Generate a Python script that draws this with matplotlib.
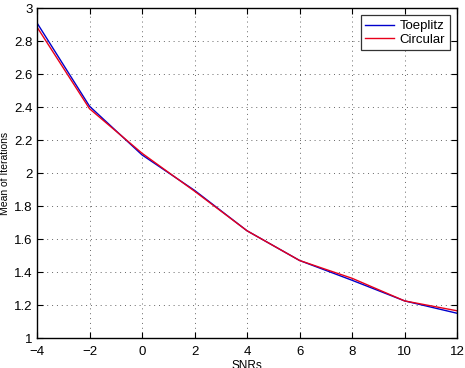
import matplotlib
matplotlib.use("Agg")
import matplotlib.pyplot as plt

snrs = [-4, -2, 0, 2, 4, 6, 8, 10, 12]
toeplitz = [2.91, 2.405, 2.11, 1.895, 1.65, 1.47, 1.35, 1.225, 1.15]
circular = [2.885, 2.39, 2.12, 1.89, 1.65, 1.47, 1.362, 1.225, 1.165]
xticks = [-4, -2, 0, 2, 4, 6, 8, 10, 12]
yticks = [1, 1.2, 1.4, 1.6, 1.8, 2, 2.2, 2.4, 2.6, 2.8, 3]

plt.rcParams['font.family'] = ['Liberation Sans', 'DejaVu Sans']

fig = plt.figure(figsize=(4.65, 3.68), dpi=100)
ax = fig.add_axes([0.0796, 0.0815, 0.9034, 0.8965])

ax.plot(snrs, toeplitz, color='#0000cc', lw=1.0, label='Toeplitz')
ax.plot(snrs, circular, color='#e8001a', lw=1.0, label='Circular')

ax.set_xlim(-4, 12)
ax.set_ylim(1, 3)
ax.set_xticks(xticks)
ax.set_yticks(yticks)
ax.set_yticklabels([f"{v:g}" for v in yticks])
ax.set_xticklabels([f"{v:g}".replace('-', '\u2212') for v in xticks])
ax.tick_params(direction='in', top=True, right=True, labelsize=9.5, length=4)
ax.tick_params(axis='x', pad=6)
ax.tick_params(axis='y', pad=3)
ax.grid(True, linestyle=(0, (1, 4)), color='#666666', lw=0.7)
for s in ax.spines.values():
    s.set_linewidth(1.0)

ax.set_xlabel('SNRs', fontsize=8.5, labelpad=1)
ax.set_ylabel('Mean of Iterations', fontsize=7.5, labelpad=3)

leg = ax.legend(loc='upper right', fontsize=9.5, fancybox=False, edgecolor='#333333',
                framealpha=1, handlelength=2.2, handletextpad=0.4, borderpad=0.35,
                labelspacing=0.1, borderaxespad=0.55)
leg.get_frame().set_linewidth(0.9)

fig.savefig('out.png', dpi=100)
